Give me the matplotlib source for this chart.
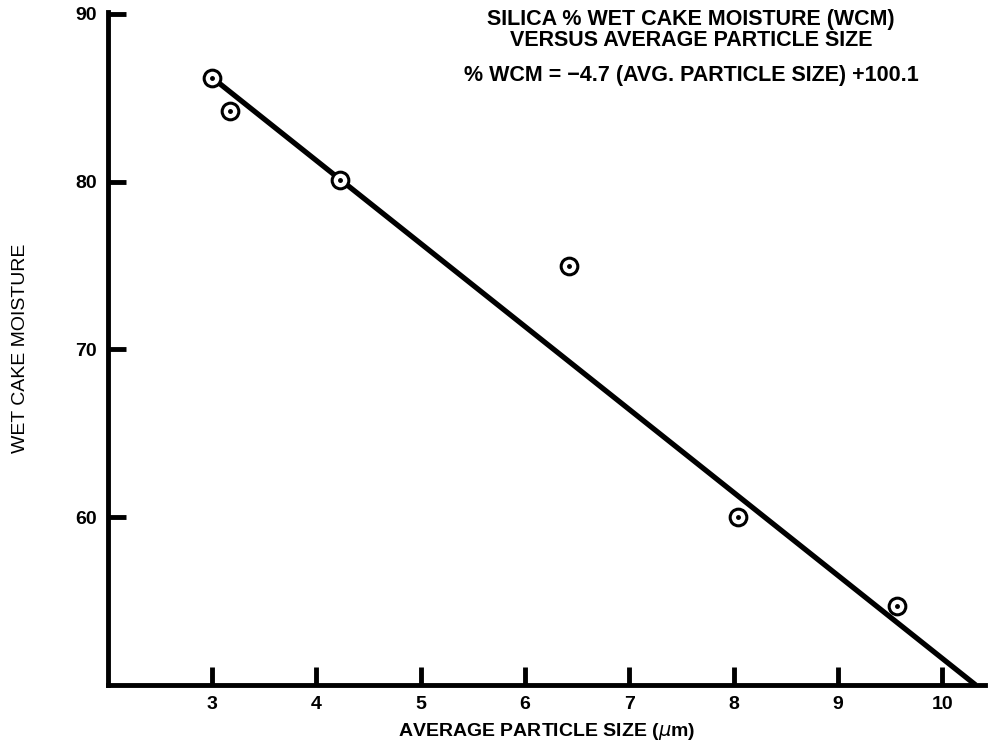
import numpy as np
import matplotlib.pyplot as plt

plt.rcParams['font.family'] = ['Liberation Sans', 'DejaVu Sans']

# Average particle size (um) vs wet cake moisture (%)
size_um = np.array([3.0, 3.17, 4.23, 6.42, 8.04, 9.57])
wcm = np.array([86.2, 84.2, 80.1, 75.0, 60.0, 54.7])

# Fitted line as drawn
fit_x = np.array([3.0, 10.32])
fit_y = np.array([86.2, 50.0])

x_ticks = [3, 4, 5, 6, 7, 8, 9, 10]
y_ticks = [60, 70, 80, 90]

fig = plt.figure(figsize=(9.98, 7.41), dpi=100)
ax = fig.add_axes([0.108, 0.0756, 0.879, 0.908])

ax.plot(fit_x, fit_y, color='black', lw=3.8, solid_capstyle='butt', zorder=2)
ax.plot(size_um, wcm, 'o', ms=12, mfc='white', mec='black', mew=2.2, zorder=3)
ax.plot(size_um, wcm, 'o', ms=2.5, color='black', zorder=4)

ax.set_xlim(2.0, 10.41)
ax.set_ylim(50, 90.1)
ax.set_xticks(x_ticks)
ax.set_yticks(y_ticks)

for side in ['top', 'right']:
    ax.spines[side].set_visible(False)
for side in ['left', 'bottom']:
    ax.spines[side].set_linewidth(3.5)

ax.tick_params(direction='in', length=13, width=3.5, labelsize=14, pad=8)
for lab in ax.get_xticklabels() + ax.get_yticklabels():
    lab.set_fontweight('bold')

ax.set_xlabel('AVERAGE PARTICLE SIZE ($\\mu$m)', fontsize=14, fontweight='bold', labelpad=6)
ax.yaxis.set_label_coords(-0.09, 0.566)
ax.set_ylabel('WET CAKE MOISTURE', fontsize=14)

ax.text(0.665, 1.004, 'SILICA % WET CAKE MOISTURE (WCM)\nVERSUS AVERAGE PARTICLE SIZE',
        transform=ax.transAxes, ha='center', va='top', fontsize=15.5,
        fontweight='bold', linespacing=1.0)
ax.text(0.665, 0.922, '% WCM = \u22124.7 (AVG. PARTICLE SIZE) +100.1',
        transform=ax.transAxes, ha='center', va='top', fontsize=15.5,
        fontweight='bold')

fig.savefig('out.png', dpi=100)
